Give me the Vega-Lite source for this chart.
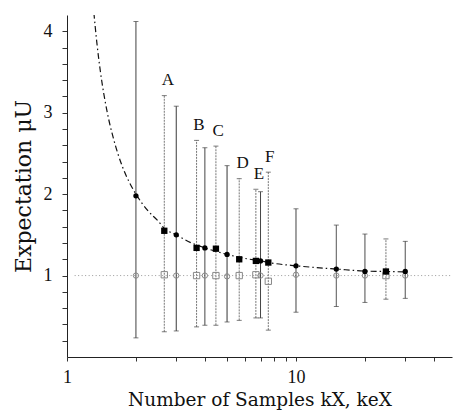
{
  "$schema": "https://vega.github.io/schema/vega-lite/v6.json",
  "width": 385,
  "height": 342,
  "autosize": "none",
  "padding": {"left": 67, "top": 15, "right": 1, "bottom": 57},
  "background": "white",
  "config": {
    "view": {"stroke": null},
    "font": "Liberation Serif",
    "axis": {"grid": false, "domainColor": "#222", "tickColor": "#333", "labelColor": "#111", "titleColor": "#111", "labelFont": "Liberation Serif", "titleFont": "DejaVu Serif", "titleFontWeight": "normal"}
  },
  "datasets": {
    "pts": [
      {"type": "c", "k": 2, "mu": 1.98, "lo": 0.235, "hi": 4.12, "open": 1.0},
      {"type": "c", "k": 3, "mu": 1.50, "lo": 0.32, "hi": 3.08, "open": 1.0},
      {"type": "c", "k": 4, "mu": 1.34, "lo": 0.39, "hi": 2.57, "open": 1.0},
      {"type": "c", "k": 5, "mu": 1.26, "lo": 0.43, "hi": 2.35, "open": 0.99},
      {"type": "c", "k": 7, "mu": 1.18, "lo": 0.48, "hi": 2.03, "open": 1.0},
      {"type": "c", "k": 10, "mu": 1.12, "lo": 0.55, "hi": 1.82, "open": 1.01},
      {"type": "c", "k": 15, "mu": 1.08, "lo": 0.62, "hi": 1.62, "open": 1.0},
      {"type": "c", "k": 20, "mu": 1.05, "lo": 0.67, "hi": 1.51, "open": 1.0},
      {"type": "c", "k": 30, "mu": 1.05, "lo": 0.72, "hi": 1.42, "open": 1.0},
      {"type": "s", "k": 2.66, "mu": 1.55, "lo": 0.31, "hi": 3.21, "open": 1.01},
      {"type": "s", "k": 3.68, "mu": 1.34, "lo": 0.37, "hi": 2.66, "open": 1.0},
      {"type": "s", "k": 4.47, "mu": 1.33, "lo": 0.39, "hi": 2.59, "open": 1.0},
      {"type": "s", "k": 5.65, "mu": 1.20, "lo": 0.45, "hi": 2.19, "open": 1.0},
      {"type": "s", "k": 6.68, "mu": 1.18, "lo": 0.48, "hi": 2.06, "open": 1.01},
      {"type": "s", "k": 7.57, "mu": 1.16, "lo": 0.33, "hi": 2.27, "open": 0.93},
      {"type": "s", "k": 24.7, "mu": 1.05, "lo": 0.71, "hi": 1.45, "open": 1.0}
    ],
    "curve": [
      {"k": 1.31, "mu": 4.23}, {"k": 1.35, "mu": 3.86}, {"k": 1.4, "mu": 3.5},
      {"k": 1.5, "mu": 3.0}, {"k": 1.6, "mu": 2.67}, {"k": 1.75, "mu": 2.33},
      {"k": 1.9, "mu": 2.11}, {"k": 2, "mu": 2.0}, {"k": 2.25, "mu": 1.8},
      {"k": 2.5, "mu": 1.67}, {"k": 2.66, "mu": 1.58}, {"k": 3, "mu": 1.5},
      {"k": 3.5, "mu": 1.4}, {"k": 4, "mu": 1.34}, {"k": 5, "mu": 1.26},
      {"k": 6, "mu": 1.21}, {"k": 7, "mu": 1.18}, {"k": 8, "mu": 1.15},
      {"k": 10, "mu": 1.12}, {"k": 12, "mu": 1.1}, {"k": 15, "mu": 1.08},
      {"k": 20, "mu": 1.055}, {"k": 25, "mu": 1.05}, {"k": 30, "mu": 1.045}
    ],
    "ref": [{"k": 1.08, "y": 1}, {"k": 48, "y": 1}],
    "labels": [
      {"t": "A", "k": 2.76, "y": 3.40},
      {"t": "B", "k": 3.77, "y": 2.85},
      {"t": "C", "k": 4.57, "y": 2.78},
      {"t": "D", "k": 5.85, "y": 2.38},
      {"t": "E", "k": 6.89, "y": 2.25},
      {"t": "F", "k": 7.67, "y": 2.46}
    ]
  },
  "encoding": {
    "x": {
      "field": "k", "type": "quantitative",
      "scale": {"type": "log", "domain": [1, 48], "nice": false},
      "axis": {
        "title": "Number of Samples kX, keX",
        "values": [1, 2, 3, 4, 5, 6, 7, 8, 9, 10, 20, 30, 40],
        "tickCount": 40,
        "labelExpr": "datum.value == 1 || datum.value == 10 ? format(datum.value, 'd') : ''",
        "tickSize": 4, "labelFontSize": 18, "labelPadding": 7,
        "titleFontSize": 18.5, "titlePadding": 4, "labelFlush": false, "labelOverlap": false
      }
    }
  },
  "layer": [
    {
      "data": {"name": "ref"},
      "mark": {"type": "line", "color": "#999", "strokeWidth": 1, "strokeDash": [1, 2.5]},
      "encoding": {
        "y": {
          "field": "y", "type": "quantitative",
          "scale": {"domain": [0, 4.2], "nice": false, "zero": false},
          "axis": {
            "title": "Expectation μU",
            "values": [0.2, 0.4, 0.6, 0.8, 1, 1.2, 1.4, 1.6, 1.8, 2, 2.2, 2.4, 2.6, 2.8, 3, 3.2, 3.4, 3.6, 3.8, 4],
            "tickCount": 40,
            "labelExpr": "abs(datum.value - round(datum.value)) < 0.001 ? format(datum.value, 'd') : ''",
            "tickSize": 5, "labelFontSize": 18, "labelPadding": 10,
            "titleFontSize": 22, "titlePadding": 8, "labelOverlap": false
          }
        }
      }
    },
    {
      "data": {"name": "curve"},
      "mark": {"type": "line", "color": "#111", "strokeWidth": 1.2, "strokeDash": [6, 3, 1.5, 3], "interpolate": "monotone", "clip": true},
      "encoding": {"y": {"field": "mu", "type": "quantitative"}}
    },
    {
      "data": {"name": "pts"},
      "mark": {"type": "rule", "strokeWidth": 1},
      "encoding": {
        "y": {"field": "lo", "type": "quantitative"},
        "y2": {"field": "hi"},
        "color": {"field": "type", "type": "nominal", "scale": {"domain": ["c", "s"], "range": ["#333", "#777"]}, "legend": null},
        "strokeDash": {"field": "type", "type": "nominal", "scale": {"domain": ["c", "s"], "range": [[1, 0], [2, 1]]}, "legend": null}
      }
    },
    {
      "data": {"name": "pts"},
      "mark": {"type": "tick", "orient": "horizontal", "size": 5, "thickness": 1, "color": "#444"},
      "encoding": {"y": {"field": "lo", "type": "quantitative"}}
    },
    {
      "data": {"name": "pts"},
      "mark": {"type": "tick", "orient": "horizontal", "size": 5, "thickness": 1, "color": "#444"},
      "encoding": {"y": {"field": "hi", "type": "quantitative"}}
    },
    {
      "data": {"name": "pts"},
      "mark": {"type": "point", "filled": false, "color": "#888", "strokeWidth": 1, "opacity": 1},
      "encoding": {
        "y": {"field": "open", "type": "quantitative"},
        "shape": {"field": "type", "type": "nominal", "scale": {"domain": ["c", "s"], "range": ["circle", "square"]}, "legend": null},
        "size": {"field": "type", "type": "nominal", "scale": {"domain": ["c", "s"], "range": [28, 40]}, "legend": null}
      }
    },
    {
      "data": {"name": "pts"},
      "mark": {"type": "point", "filled": true, "color": "#000", "opacity": 1},
      "encoding": {
        "y": {"field": "mu", "type": "quantitative"},
        "shape": {"field": "type", "type": "nominal", "scale": {"domain": ["c", "s"], "range": ["circle", "square"]}, "legend": null},
        "size": {"field": "type", "type": "nominal", "scale": {"domain": ["c", "s"], "range": [50, 56]}, "legend": null}
      }
    },
    {
      "data": {"name": "labels"},
      "mark": {"type": "text", "font": "Liberation Serif", "fontSize": 17, "color": "#111", "align": "center", "baseline": "middle"},
      "encoding": {
        "y": {"field": "y", "type": "quantitative"},
        "text": {"field": "t", "type": "nominal"}
      }
    }
  ]
}
